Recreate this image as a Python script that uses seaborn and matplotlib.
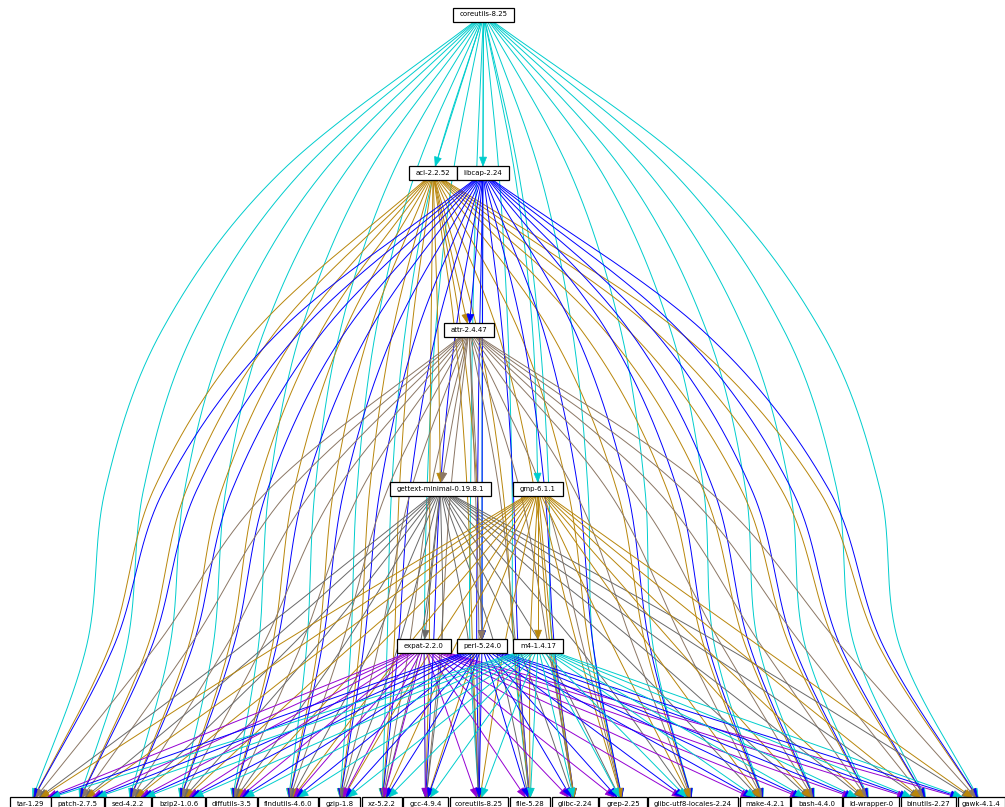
import numpy as np
import pandas as pd
import matplotlib
matplotlib.use("Agg")
import matplotlib.pyplot as plt
from matplotlib.patches import Polygon, Rectangle
import seaborn as sns

# graph nodes (upper packages first, then the implicit build inputs)
node_ids = ["coreutils_top", "acl", "libcap", "attr", "gettext", "gmp", "expat", "perl", "m4",
            "tar", "patch", "sed", "bzip2", "diffutils", "findutils", "gzip", "xz", "gcc",
            "coreutils", "file", "glibc", "grep", "locales", "make", "bash", "ld_wrapper",
            "binutils", "gawk"]
node_labels = ["coreutils-8.25", "acl-2.2.52", "libcap-2.24", "attr-2.4.47",
               "gettext-minimal-0.19.8.1", "gmp-6.1.1", "expat-2.2.0", "perl-5.24.0", "m4-1.4.17",
               "tar-1.29", "patch-2.7.5", "sed-4.2.2", "bzip2-1.0.6", "diffutils-3.5",
               "findutils-4.6.0", "gzip-1.8", "xz-5.2.2", "gcc-4.9.4", "coreutils-8.25",
               "file-5.28", "glibc-2.24", "grep-2.25", "glibc-utf8-locales-2.24", "make-4.2.1",
               "bash-4.4.0", "ld-wrapper-0", "binutils-2.27", "gawk-4.1.4"]
node_rank = [0, 1, 1, 2, 3, 3, 4, 4, 4] + [5] * 19

# layout (pixels), as graphviz placed them
node_x = [483.5, 433, 483, 469, 440.5, 538, 424, 482, 538,
          30.5, 77.5, 128, 178.5, 231.5, 288, 339.5, 382, 425.5, 479, 530, 575, 623,
          693, 765, 816.5, 871, 928.5, 981.5]
node_w = [61, 48, 52, 50, 101, 50, 54, 50, 50,
          41, 53, 46, 53, 51, 60, 41, 40, 45, 58, 40, 46, 48, 90, 50, 51, 56, 55, 47]
rank_y = [14.5, 173, 330, 488.5, 646, 804]
BOX_H = 14

base_inputs = node_ids[9:]
deps = {
    "coreutils_top": ["acl", "libcap", "gmp", "perl"],
    "acl": ["attr", "gettext", "perl"],
    "libcap": ["attr", "perl"],
    "attr": ["gettext", "perl"],
    "gettext": ["expat"],
    "gmp": ["m4"],
    "expat": [],
    "perl": [],
    "m4": [],
}
node_color = {
    "coreutils_top": "#00CDCD", "acl": "#B8860B", "libcap": "#0000FF",
    "attr": "#8B7765", "gettext": "#696969", "gmp": "#B8860B",
    "expat": "#9400D3", "perl": "#0000FF", "m4": "#00CDCD",
}

idx = {n: i for i, n in enumerate(node_ids)}


def hermite(pts, nseg=150):
    P = np.array(pts, float)
    if len(P) == 2:
        t = np.linspace(0, 1, nseg * 2)[:, None]
        return P[0] + (P[1] - P[0]) * t
    T = np.zeros_like(P)
    T[0] = P[1] - P[0]
    T[-1] = P[-1] - P[-2]
    T[1:-1] = (P[2:] - P[:-2]) / 2
    out = []
    t = np.linspace(0, 1, nseg, endpoint=False)[:, None]
    h00 = 2 * t**3 - 3 * t**2 + 1
    h10 = t**3 - 2 * t**2 + t
    h01 = -2 * t**3 + 3 * t**2
    h11 = t**3 - t**2
    for i in range(len(P) - 1):
        out.append(h00 * P[i] + h10 * T[i] + h01 * P[i + 1] + h11 * T[i + 1])
    out.append(P[-1:])
    return np.vstack(out)


def route(s, t, k):
    i, j = idx[s], idx[t]
    xs, ys = node_x[i], rank_y[node_rank[i]]
    xt, yt = node_x[j], rank_y[node_rank[j]]
    r0, r1 = node_rank[i], node_rank[j]
    n = r1 - r0 - 1
    if r1 == 5:
        spread = 0.86 - 0.03 * r0
        xv = 500 + (xt - 500) * spread + (k - 4) * 3
    else:
        xv = xt
    e = 1 + n * 0.55
    pts = [(xs, ys)]
    for m in range(1, n + 1):
        p = m / (n + 1)
        g = 1 - (1 - p) ** e
        pts.append((xs + (xv - xs) * g, rank_y[r0 + m]))
    pts.append((xt, yt))
    curve = hermite(pts)

    # clip at the target box, leave room for the arrowhead
    hw = node_w[j] / 2
    inside = (np.abs(curve[:, 0] - xt) <= hw) & (np.abs(curve[:, 1] - yt) <= BOX_H / 2)
    first = np.argmax(inside)
    curve = curve[:first + 1]
    tip = curve[-1]
    d = np.hypot(*(curve[1:] - curve[:-1]).T)
    dist_from_tip = np.concatenate([np.cumsum(d[::-1])[::-1], [0]])
    L = 9.0
    keep = curve[dist_from_tip > L]
    back = curve[dist_from_tip > 6][-1]
    u = tip - back
    u = u / np.hypot(*u)
    base = tip - u * L
    line = np.vstack([keep, base])
    return line, tip, base, u


sns.set_theme(style="white")
fig = plt.figure(figsize=(10.05, 8.07), dpi=100)
ax = fig.add_axes([0, 0, 1, 1])

rows = []
heads = []
eid = 0
for k, s in enumerate(node_ids[:9]):
    for t in deps[s] + base_inputs:
        line, tip, base, u = route(s, t, k)
        for x, y in line:
            rows.append((eid, s, x, y))
        heads.append((s, tip, base, u))
        eid += 1

df = pd.DataFrame(rows, columns=["edge", "src", "x", "y"])
sns.lineplot(data=df, x="x", y="y", units="edge", hue="src", palette=node_color,
             estimator=None, sort=False, lw=0.7, legend=False, ax=ax)

for s, tip, base, u in heads:
    perp = np.array([-u[1], u[0]])
    tri = [tip, base + perp * 3.5, base - perp * 3.5]
    ax.add_patch(Polygon(tri, closed=True, facecolor=node_color[s],
                         edgecolor=node_color[s], lw=0.5, zorder=2))

for i, lab in enumerate(node_labels):
    x, y, w = node_x[i], rank_y[node_rank[i]], node_w[i]
    ax.add_patch(Rectangle((x - w / 2, y - BOX_H / 2), w, BOX_H, facecolor="white",
                           edgecolor="black", lw=0.9, zorder=3))
    ax.text(x, y, lab, ha="center", va="center", fontsize=5, color="black", zorder=4)

ax.set_xlim(0, 1005)
ax.set_ylim(807, 0)
ax.axis("off")
fig.savefig("out.png", dpi=100, facecolor="white")
